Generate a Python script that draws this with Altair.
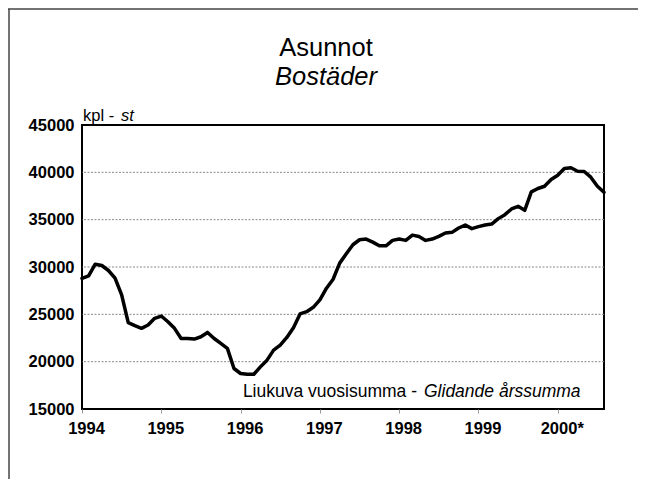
import json
import altair as alt
import pandas as pd

# ---- data ----
start_year = 1994
values = [
    28800, 29060, 30300, 30160, 29630, 28820, 27050, 24120, 23800, 23520, 23870, 24580,  # 1994
    24820, 24220, 23520, 22450, 22450, 22390, 22630, 23090, 22450, 21930, 21400, 19280,  # 1995
    18750, 18670, 18670, 19450, 20160, 21220, 21750, 22560, 23590, 25040, 25280, 25740,  # 1996
    26520, 27760, 28710, 30410, 31400, 32350, 32880, 32950, 32630, 32240, 32240, 32810,  # 1997
    32950, 32810, 33370, 33230, 32810, 32950, 33230, 33590, 33660, 34120, 34430, 34050,  # 1998
    34260, 34430, 34540, 35110, 35530, 36130, 36410, 35990, 37930, 38290, 38530, 39240,  # 1999
    39700, 40410, 40480, 40120, 40090, 39490, 38530, 37900,                              # 2000
]
x_ticks = [1994, 1995, 1996, 1997, 1998, 1999, 2000]
x_tick_labels = ["1994", "1995", "1996", "1997", "1998", "1999", "2000*"]
y_ticks = [15000, 20000, 25000, 30000, 35000, 40000, 45000]
grid_vals = [20000, 25000, 30000, 35000, 40000]

title_1 = "Asunnot"
title_2 = "Bostäder"
unit_1 = "kpl -"
unit_2 = "st"
note_1 = "Liukuva vuosisumma -"
note_2 = "Glidande årssumma"

df = pd.DataFrame({"t": [start_year + i / 12 for i in range(len(values))], "v": values})

NARROW = "Liberation Sans Narrow, Arial Narrow, Liberation Sans, sans-serif"
REG = "Liberation Sans, Arial, Helvetica, sans-serif"

W, H = 522, 284
xscale = alt.Scale(domain=[start_year, start_year + (len(values) - 1) / 12], nice=False, zero=False)
yscale = alt.Scale(domain=[15000, 45000], nice=False, zero=False)

label_expr = f"{json.dumps(x_tick_labels)}[datum.value - {x_ticks[0]}]"

y_axis = alt.Axis(values=y_ticks, format="d", grid=False, domain=False,
                  ticks=False, tickSize=0, labelFont=NARROW, labelFontSize=16.5,
                  labelFontWeight="bold", labelColor="black", labelPadding=8)

line = alt.Chart(df).mark_line(
    color="black", strokeWidth=3.5, strokeJoin="round", strokeCap="round"
).encode(
    x=alt.X("t:Q", scale=xscale, title=None,
            axis=alt.Axis(values=x_ticks, labelExpr=label_expr, grid=False, domain=False,
                          ticks=True, tickSize=4, tickColor="#999", tickWidth=1,
                          labelFont=NARROW, labelFontSize=16.5, labelFontWeight="bold",
                          labelColor="black", labelPadding=7, labelOffset=4, labelFlush=False)),
    y=alt.Y("v:Q", scale=yscale, title=None, axis=y_axis),
)

grid = alt.Chart(pd.DataFrame({"g": grid_vals})).mark_rule(
    color="#8a8a8a", strokeDash=[2, 1.5], strokeWidth=1
).encode(y=alt.Y("g:Q", scale=yscale, title=None, axis=y_axis))

one = pd.DataFrame({"a": [0]})

def txt(text, x, y, size, style="normal", align="left", font=REG):
    return alt.Chart(one).mark_text(
        text=text, font=font, fontSize=size, fontStyle=style, align=align,
        baseline="alphabetic", color="black"
    ).encode(x=alt.value(x), y=alt.value(y))

texts = [
    txt(title_1, 244, -69, 25.5, align="center"),
    txt(title_2, 244, -40, 25.5, style="italic", align="center"),
    txt(unit_1, 1, -4, 16.5),
    txt(unit_2, 39, -4, 16.5, style="italic"),
    txt(note_1, 335, 272, 17.5, align="right"),
    txt(note_2, 342, 272, 17.5, style="italic"),
]

frame_top = alt.Chart(one).mark_rule(color="#444", strokeWidth=1.5).encode(
    x=alt.value(-74), x2=alt.value(556), y=alt.value(-116))
frame_left = alt.Chart(one).mark_rule(color="#444", strokeWidth=1.5).encode(
    x=alt.value(-73), y=alt.value(-116), y2=alt.value(360))

chart = alt.layer(grid, line, *texts, frame_top, frame_left).properties(
    width=W, height=H,
    autosize=alt.AutoSizeParams(type="none"),
    padding={"left": 74, "top": 117, "right": 34, "bottom": 70},
    background="white",
).configure_view(stroke="black", strokeWidth=2)

chart.save("out.html", embed_options={"renderer": "svg", "actions": False})
